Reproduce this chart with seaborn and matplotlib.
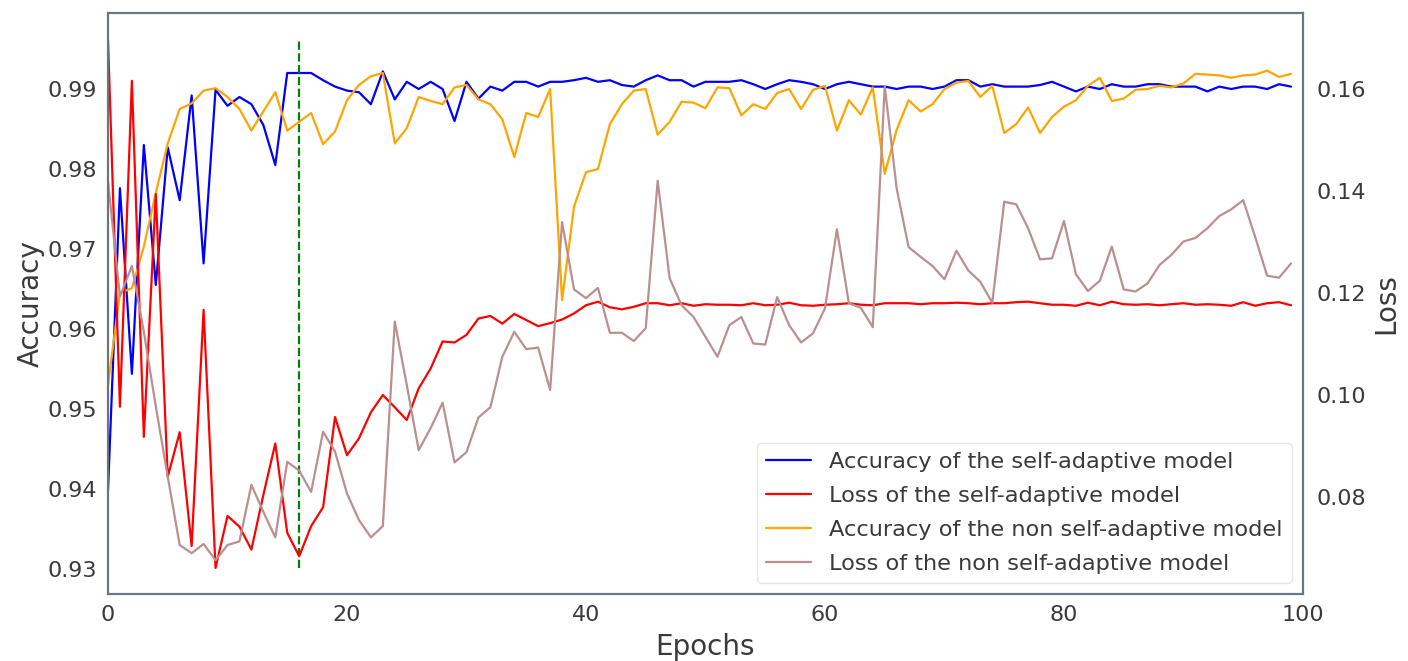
import numpy as np
import pandas as pd
import matplotlib
matplotlib.use("Agg")
import matplotlib.pyplot as plt
import seaborn as sns

epochs = list(range(100))

acc_self = [0.9398, 0.9776, 0.9544, 0.9830, 0.9655, 0.9827, 0.9761, 0.9892, 0.9682, 0.9899,
            0.9879, 0.9890, 0.9881, 0.9855, 0.9805, 0.9920, 0.9920, 0.9920, 0.9911, 0.9903,
            0.9898, 0.9896, 0.9881, 0.9922, 0.9887, 0.9909, 0.9900, 0.9909, 0.9900, 0.9860,
            0.9909, 0.9888, 0.9903, 0.9898, 0.9909, 0.9909, 0.9903, 0.9909, 0.9909, 0.9911,
            0.9914, 0.9909, 0.9911, 0.9905, 0.9903, 0.9911, 0.9917, 0.9911, 0.9911, 0.9903,
            0.9909, 0.9909, 0.9909, 0.9911, 0.9906, 0.9900, 0.9906, 0.9911, 0.9909, 0.9906,
            0.9900, 0.9906, 0.9909, 0.9906, 0.9903, 0.9903, 0.9900, 0.9903, 0.9903, 0.9900,
            0.9903, 0.9911, 0.9911, 0.9903, 0.9906, 0.9903, 0.9903, 0.9903, 0.9905, 0.9909,
            0.9903, 0.9897, 0.9903, 0.9900, 0.9906, 0.9903, 0.9903, 0.9906, 0.9906, 0.9903,
            0.9903, 0.9903, 0.9897, 0.9903, 0.9900, 0.9903, 0.9903, 0.9900, 0.9906, 0.9903]

loss_self = [0.1697, 0.0977, 0.1616, 0.0918, 0.1394, 0.0840, 0.0927, 0.0704, 0.1167, 0.0661,
             0.0763, 0.0742, 0.0697, 0.0804, 0.0905, 0.0730, 0.0684, 0.0743, 0.0780, 0.0957,
             0.0882, 0.0915, 0.0966, 0.1000, 0.0976, 0.0951, 0.1013, 0.1052, 0.1105, 0.1103,
             0.1118, 0.1150, 0.1155, 0.1140, 0.1159, 0.1147, 0.1135, 0.1141, 0.1148, 0.1160,
             0.1176, 0.1183, 0.1172, 0.1168, 0.1173, 0.1180, 0.1180, 0.1176, 0.1180, 0.1175,
             0.1178, 0.1177, 0.1177, 0.1176, 0.1180, 0.1176, 0.1177, 0.1181, 0.1176, 0.1175,
             0.1177, 0.1178, 0.1180, 0.1177, 0.1176, 0.1180, 0.1180, 0.1180, 0.1178, 0.1180,
             0.1180, 0.1181, 0.1180, 0.1178, 0.1180, 0.1180, 0.1182, 0.1183, 0.1180, 0.1177,
             0.1177, 0.1175, 0.1181, 0.1176, 0.1183, 0.1178, 0.1177, 0.1178, 0.1176, 0.1178,
             0.1180, 0.1177, 0.1178, 0.1177, 0.1175, 0.1182, 0.1175, 0.1180, 0.1182, 0.1176]

acc_non = [0.9530, 0.9645, 0.9651, 0.9703, 0.9770, 0.9832, 0.9875, 0.9882, 0.9898, 0.9901,
           0.9890, 0.9875, 0.9848, 0.9872, 0.9896, 0.9848, 0.9859, 0.9870, 0.9831, 0.9847,
           0.9886, 0.9905, 0.9916, 0.9920, 0.9832, 0.9851, 0.9890, 0.9885, 0.9881, 0.9902,
           0.9905, 0.9887, 0.9881, 0.9862, 0.9815, 0.9870, 0.9865, 0.9900, 0.9636, 0.9753,
           0.9796, 0.9800, 0.9856, 0.9881, 0.9898, 0.9900, 0.9843, 0.9859, 0.9884, 0.9883,
           0.9876, 0.9902, 0.9901, 0.9867, 0.9881, 0.9875, 0.9895, 0.9900, 0.9875, 0.9899,
           0.9904, 0.9848, 0.9886, 0.9868, 0.9902, 0.9794, 0.9849, 0.9886, 0.9872, 0.9881,
           0.9900, 0.9908, 0.9910, 0.9890, 0.9904, 0.9845, 0.9856, 0.9877, 0.9845, 0.9865,
           0.9878, 0.9886, 0.9904, 0.9914, 0.9885, 0.9888, 0.9899, 0.9900, 0.9904, 0.9902,
           0.9907, 0.9919, 0.9918, 0.9917, 0.9914, 0.9917, 0.9918, 0.9923, 0.9915, 0.9919]

loss_non = [0.1420, 0.1193, 0.1253, 0.1124, 0.0978, 0.0840, 0.0706, 0.0690, 0.0708, 0.0676,
            0.0706, 0.0713, 0.0824, 0.0771, 0.0721, 0.0869, 0.0852, 0.0810, 0.0928, 0.0889,
            0.0807, 0.0755, 0.0721, 0.0743, 0.1144, 0.1020, 0.0892, 0.0935, 0.0985, 0.0868,
            0.0888, 0.0956, 0.0976, 0.1075, 0.1124, 0.1090, 0.1093, 0.1010, 0.1339, 0.1207,
            0.1190, 0.1210, 0.1122, 0.1122, 0.1106, 0.1131, 0.1420, 0.1229, 0.1176, 0.1153,
            0.1114, 0.1075, 0.1137, 0.1153, 0.1101, 0.1099, 0.1192, 0.1137, 0.1103, 0.1121,
            0.1170, 0.1325, 0.1180, 0.1171, 0.1133, 0.1605, 0.1405, 0.1290, 0.1271, 0.1253,
            0.1227, 0.1283, 0.1244, 0.1222, 0.1181, 0.1379, 0.1374, 0.1327, 0.1266, 0.1268,
            0.1341, 0.1237, 0.1204, 0.1224, 0.1291, 0.1207, 0.1203, 0.1219, 0.1255, 0.1275,
            0.1301, 0.1308, 0.1327, 0.1351, 0.1364, 0.1382, 0.1310, 0.1234, 0.1230, 0.1258]

best_epoch = 16
best_span = [0.9301, 0.9961]

labels = ["Accuracy of the self-adaptive model",
          "Loss of the self-adaptive model",
          "Accuracy of the non self-adaptive model",
          "Loss of the non self-adaptive model"]

sns.set_style("white")
plt.rcParams['font.family'] = ['DejaVu Sans']
text_col = '#3a3a3a'
spine_col = '#6b7480'

df = pd.DataFrame({"epoch": epochs, "acc_self": acc_self, "loss_self": loss_self,
                   "acc_non": acc_non, "loss_non": loss_non})

fig, ax = plt.subplots(figsize=(14.08, 6.61), dpi=100)
fig.subplots_adjust(left=0.0767, right=0.9254, top=0.9796, bottom=0.1014)
ax2 = ax.twinx()

sns.lineplot(data=df, x="epoch", y="acc_self", ax=ax, color="blue", lw=1.6, label=labels[0], legend=False)
sns.lineplot(data=df, x="epoch", y="acc_non", ax=ax, color="orange", lw=1.6, label=labels[2], legend=False)
ax.vlines(best_epoch, best_span[0], best_span[1], colors="green", linestyles="--", lw=1.6)
sns.lineplot(data=df, x="epoch", y="loss_self", ax=ax2, color="red", lw=1.6, label=labels[1], legend=False)
sns.lineplot(data=df, x="epoch", y="loss_non", ax=ax2, color="rosybrown", lw=1.6, label=labels[3], legend=False)

ax.set_xlim(0, 100)
ax.set_ylim(0.92688, 0.99944)
ax2.set_ylim(0.0610, 0.1748)
ax.set_xticks([0, 20, 40, 60, 80, 100])
ax.set_yticks([0.93, 0.94, 0.95, 0.96, 0.97, 0.98, 0.99])
ax.set_yticklabels([f"{v:.2f}" for v in [0.93, 0.94, 0.95, 0.96, 0.97, 0.98, 0.99]])
ax2.set_yticks([0.08, 0.10, 0.12, 0.14, 0.16])
ax2.set_yticklabels([f"{v:.2f}" for v in [0.08, 0.10, 0.12, 0.14, 0.16]])

ax.set_xlabel("Epochs", fontsize=20, color=text_col, labelpad=6)
ax.set_ylabel("Accuracy", fontsize=20, color=text_col, labelpad=2)
ax2.set_ylabel("Loss", fontsize=20, color=text_col, labelpad=4)

ax.tick_params(axis="both", labelsize=16, colors=text_col, length=0, pad=8)
ax2.tick_params(axis="y", labelsize=16, colors=text_col, length=0, pad=10)

for a in (ax, ax2):
    for s in a.spines.values():
        s.set_color(spine_col)
        s.set_linewidth(1.5)

h1, l1 = ax.get_legend_handles_labels()
h2, l2 = ax2.get_legend_handles_labels()
hmap = dict(zip(l1 + l2, h1 + h2))
leg = ax2.legend([hmap[l] for l in labels], labels, loc="lower right", fontsize=16.2,
                 frameon=True, facecolor="white", edgecolor="#e6e6e6", framealpha=1.0,
                 handlelength=2.0, labelspacing=0.62, labelcolor=text_col)

fig.savefig("out.png", dpi=100)
